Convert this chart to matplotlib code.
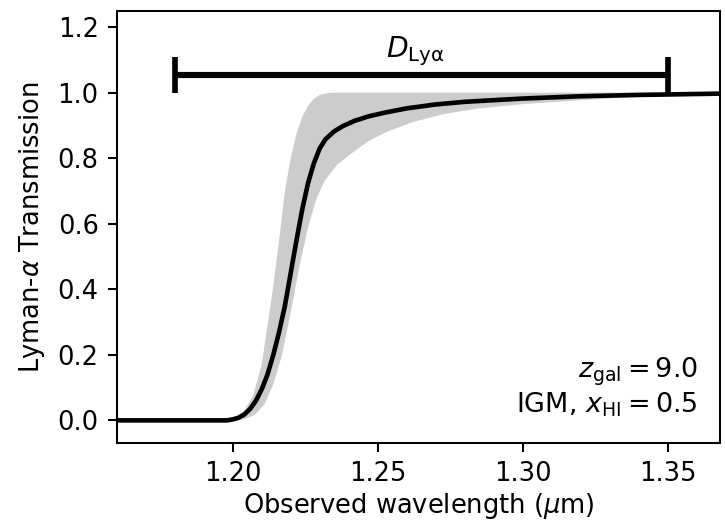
import numpy as np
import matplotlib
matplotlib.use("Agg")
import matplotlib.pyplot as plt

# median transmission curve (black)
lam_med = [1.160, 1.198, 1.200, 1.202, 1.204, 1.206, 1.208, 1.210, 1.212, 1.214,
           1.216, 1.218, 1.220, 1.222, 1.224, 1.226, 1.228, 1.230, 1.232, 1.235,
           1.238, 1.242, 1.247, 1.253, 1.260, 1.270, 1.280, 1.300, 1.320, 1.340,
           1.368]
trans_med = [0.0, 0.0, 0.003, 0.008, 0.018, 0.035, 0.06, 0.095, 0.14, 0.20,
             0.27, 0.35, 0.45, 0.55, 0.645, 0.725, 0.785, 0.83, 0.858, 0.882,
             0.898, 0.914, 0.928, 0.94, 0.952, 0.964, 0.972, 0.982, 0.989, 0.993,
             0.997]

# upper edge of the grey band
lam_hi = [1.160, 1.198, 1.201, 1.204, 1.207, 1.210, 1.212, 1.214, 1.216, 1.218,
          1.220, 1.222, 1.224, 1.226, 1.228, 1.230, 1.233, 1.236, 1.368]
trans_hi = [0.0, 0.0, 0.01, 0.03, 0.075, 0.17, 0.29, 0.41, 0.55, 0.70,
            0.80, 0.875, 0.927, 0.96, 0.982, 0.993, 0.999, 1.0, 1.0]

# lower edge of the grey band
lam_lo = [1.160, 1.202, 1.205, 1.208, 1.211, 1.214, 1.217, 1.220, 1.223, 1.226,
          1.229, 1.232, 1.236, 1.241, 1.247, 1.253, 1.262, 1.273, 1.285, 1.300,
          1.320, 1.340, 1.368]
trans_lo = [0.0, 0.0, 0.006, 0.02, 0.05, 0.11, 0.2, 0.33, 0.47, 0.59,
            0.68, 0.735, 0.78, 0.815, 0.853, 0.88, 0.91, 0.935, 0.952, 0.965,
            0.977, 0.988, 0.995]

# D_Lya range bar
bar_start, bar_end, bar_y = 1.18, 1.35, 1.053
label_x, label_y = 1.263, 1.108

dpi = 185
fig = plt.figure(figsize=(725 / dpi, 525 / dpi), dpi=dpi)
ax = fig.add_axes([0.161, 0.1556, 0.832, 0.824])

band_x = np.concatenate([lam_hi, lam_lo[::-1]])
band_y = np.concatenate([trans_hi, trans_lo[::-1]])
ax.fill(band_x, band_y, color="0.8", lw=0)
ax.plot(lam_med, trans_med, color="k", lw=1.8, solid_capstyle="round",
        solid_joinstyle="round")

ax.errorbar((bar_start + bar_end) / 2, bar_y, xerr=(bar_end - bar_start) / 2,
            color="k", elinewidth=2.4, capsize=7, capthick=2.2)
ax.text(label_x, label_y, r"$D_{\mathrm{Ly\alpha}}$", ha="center", va="baseline",
        fontsize=11)

ax.text(0.9635, 0.153, r"$z_{\mathrm{gal}} = 9.0$", transform=ax.transAxes,
        ha="right", va="baseline", fontsize=10.5)
ax.text(0.9635, 0.072, r"IGM, $x_{\mathrm{HI}} = 0.5$", transform=ax.transAxes,
        ha="right", va="baseline", fontsize=10.5)

ax.set_xlim(1.16, 1.368)
ax.set_ylim(-0.07, 1.25)
ax.set_xticks([1.20, 1.25, 1.30, 1.35])
ax.set_yticks([0.0, 0.2, 0.4, 0.6, 0.8, 1.0, 1.2])
ax.set_xlabel(r"Observed wavelength ($\mu$m)", labelpad=1.5)
ax.set_ylabel(r"Lyman-$\alpha$ Transmission")

fig.savefig("out.png", dpi=dpi)
plt.close(fig)
